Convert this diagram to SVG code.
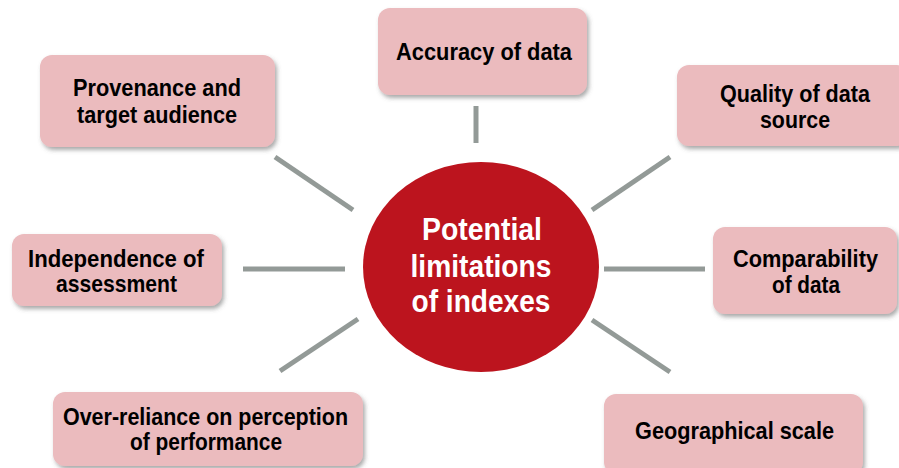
<svg xmlns="http://www.w3.org/2000/svg" width="899" height="468" viewBox="0 0 899 468">
<defs>
<filter id="sh" x="-10%" y="-10%" width="125%" height="135%">
<feDropShadow dx="2" dy="3" stdDeviation="2.2" flood-color="#555" flood-opacity="0.5"/>
</filter>
<style>
.box{fill:#ebbbbe;filter:url(#sh)}
.t{font-family:"Liberation Sans Narrow","Liberation Sans",Arial,sans-serif;font-weight:bold;font-size:24px;fill:#000;text-anchor:middle}
.c{font-family:"Liberation Sans Narrow","Liberation Sans",Arial,sans-serif;font-weight:bold;font-size:31px;fill:#fff;text-anchor:middle}
.ln{stroke:#939a97;stroke-width:5;fill:none}
</style>
</defs>
<rect width="899" height="468" fill="#fff"/>
<g id="connectors">
<line class="ln" x1="476" y1="106" x2="476" y2="143"/>
<line class="ln" x1="275" y1="157" x2="353" y2="210"/>
<line class="ln" x1="243" y1="269" x2="345" y2="269"/>
<line class="ln" x1="358" y1="319" x2="280" y2="371"/>
<line class="ln" x1="592" y1="210" x2="670" y2="157"/>
<line class="ln" x1="604" y1="269" x2="705" y2="269"/>
<line class="ln" x1="592" y1="320" x2="670" y2="372"/>
</g>
<g id="center">
<ellipse cx="481" cy="267" rx="118" ry="105" fill="#bc141e"/>
<text class="c" x="482" y="240" textLength="120" lengthAdjust="spacingAndGlyphs">Potential</text>
<text class="c" x="481" y="277" textLength="141" lengthAdjust="spacingAndGlyphs">limitations</text>
<text class="c" x="481" y="312" textLength="139" lengthAdjust="spacingAndGlyphs">of indexes</text>
</g>
<g id="accuracy">
<rect class="box" x="378" y="8" width="209" height="87" rx="12"/>
<text class="t" x="484" y="60" textLength="176" lengthAdjust="spacingAndGlyphs">Accuracy of data</text>
</g>
<g id="provenance">
<rect class="box" x="40" y="55" width="235" height="92" rx="12"/>
<text class="t" x="157" y="96" textLength="168" lengthAdjust="spacingAndGlyphs">Provenance and</text>
<text class="t" x="157" y="123" textLength="160" lengthAdjust="spacingAndGlyphs">target audience</text>
</g>
<g id="quality">
<rect class="box" x="677" y="65" width="232" height="81" rx="12"/>
<text class="t" x="795" y="102" textLength="150" lengthAdjust="spacingAndGlyphs">Quality of data</text>
<text class="t" x="795" y="128" textLength="70" lengthAdjust="spacingAndGlyphs">source</text>
</g>
<g id="independence">
<rect class="box" x="12" y="234" width="210" height="72" rx="12"/>
<text class="t" x="116" y="267" textLength="176" lengthAdjust="spacingAndGlyphs">Independence of</text>
<text class="t" x="116.5" y="292" textLength="121" lengthAdjust="spacingAndGlyphs">assessment</text>
</g>
<g id="comparability">
<rect class="box" x="713" y="227" width="184" height="87" rx="12"/>
<text class="t" x="805.5" y="267" textLength="145" lengthAdjust="spacingAndGlyphs">Comparability</text>
<text class="t" x="806" y="293" textLength="68" lengthAdjust="spacingAndGlyphs">of data</text>
</g>
<g id="overreliance">
<rect class="box" x="53" y="392" width="310" height="74" rx="12"/>
<text class="t" x="205.5" y="425" textLength="285" lengthAdjust="spacingAndGlyphs">Over-reliance on perception</text>
<text class="t" x="206" y="450" textLength="152" lengthAdjust="spacingAndGlyphs">of performance</text>
</g>
<g id="geographical">
<rect class="box" x="604" y="394" width="259" height="80" rx="12"/>
<text class="t" x="734.5" y="439" textLength="199" lengthAdjust="spacingAndGlyphs">Geographical scale</text>
</g>
</svg>
